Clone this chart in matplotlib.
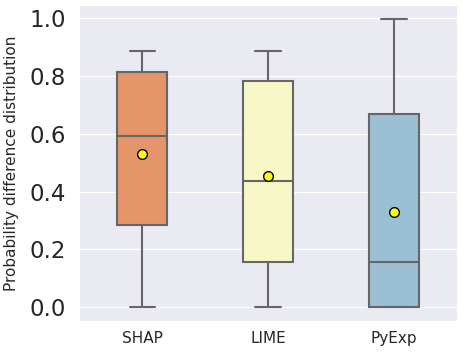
import matplotlib
matplotlib.use("Agg")
import matplotlib.pyplot as plt
import seaborn as sns

methods = ["SHAP", "LIME", "PyExp"]
whislo = [0.0, 0.0, 0.0]
q1 = [0.285, 0.155, 0.0]
med = [0.592, 0.437, 0.155]
q3 = [0.815, 0.783, 0.668]
whishi = [0.888, 0.888, 0.997]
means = [0.529, 0.455, 0.328]
colors = ["#e5956a", "#f7f7c8", "#9bc0d3"]

sns.set_style("darkgrid")

fig, ax = plt.subplots(figsize=(4.63, 3.54), dpi=100)
fig.subplots_adjust(left=0.171, right=0.987, top=0.986, bottom=0.093)

stats = []
for i, m in enumerate(methods):
    stats.append(dict(label=m, whislo=whislo[i], q1=q1[i], med=med[i],
                      q3=q3[i], whishi=whishi[i], mean=means[i], fliers=[]))

grey = "#666666"
bp = ax.bxp(stats, positions=range(len(methods)), widths=0.4, patch_artist=True,
            showmeans=True, showfliers=False,
            boxprops=dict(edgecolor=grey, linewidth=1.5),
            medianprops=dict(color=grey, linewidth=1.5),
            whiskerprops=dict(color=grey, linewidth=1.5),
            capprops=dict(color=grey, linewidth=1.5),
            meanprops=dict(marker="o", markerfacecolor="yellow",
                           markeredgecolor="black", markersize=7))
for patch, c in zip(bp["boxes"], colors):
    patch.set_facecolor(c)

ax.grid(axis="x", visible=False)
ax.set_xlim(-0.5, 2.5)
ax.set_ylim(-0.048, 1.046)
ax.set_yticks([0.0, 0.2, 0.4, 0.6, 0.8, 1.0])
ax.tick_params(axis="y", labelsize=16.5, colors="#262626", pad=6)
ax.tick_params(axis="x", labelsize=11, colors="#262626", pad=4)
ax.set_ylabel("Probability difference distribution", fontsize=11,
              color="#262626")
ax.yaxis.set_label_coords(-0.159, 0.5)

fig.savefig("out.png", dpi=100)
